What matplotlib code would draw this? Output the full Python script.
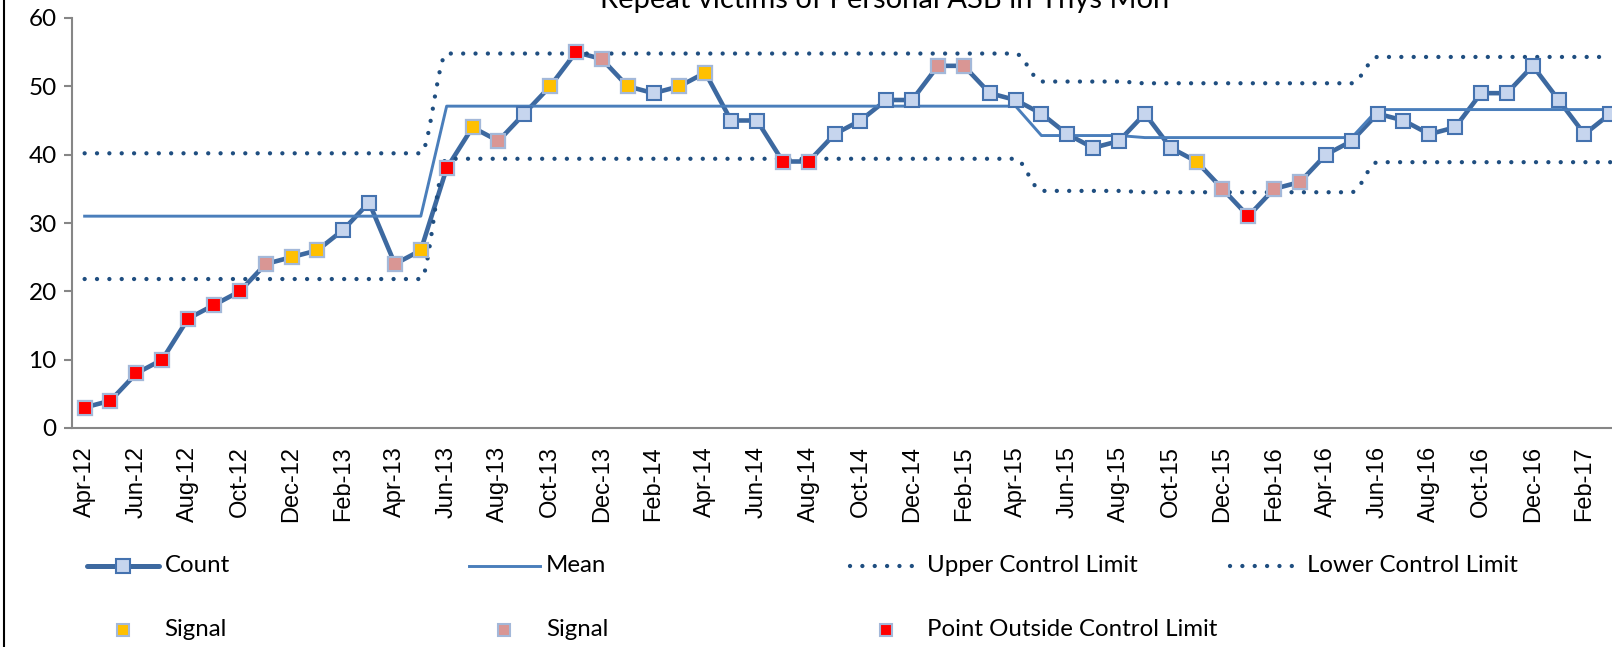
import matplotlib
matplotlib.use('Agg')
import matplotlib.pyplot as plt
import pandas as pd
from matplotlib.lines import Line2D
from matplotlib.path import Path
from matplotlib.patches import PathPatch

TITLE = 'Repeat victims of Personal ASB in Ynys Mon'

months = list(pd.period_range('2012-04', periods=60, freq='M').strftime('%b-%y'))

count = [3, 4, 8, 10, 16, 18, 20, 24, 25, 26, 29, 33,
         24, 26, 38, 44, 42, 46, 50, 55, 54, 50, 49, 50,
         52, 45, 45, 39, 39, 43, 45, 48, 48, 53, 53, 49,
         48, 46, 43, 41, 42, 46, 41, 39, 35, 31, 35, 36,
         40, 42, 46, 45, 43, 44, 49, 49, 53, 48, 43, 46]

# process limits, piecewise per period
mean = [31.0] * 14 + [47.1] * 23 + [42.8] * 4 + [42.5] * 9 + [46.6] * 10
ucl = [40.2] * 14 + [54.8] * 23 + [50.7] * 4 + [50.45] * 9 + [54.3] * 10
lcl = [21.8] * 14 + [39.4] * 23 + [34.7] * 4 + [34.5] * 9 + [38.9] * 10

# month indexes flagged by the rules
signal_yellow = [8, 9, 13, 15, 18, 21, 23, 24, 43]
signal_pink = [7, 12, 16, 20, 33, 34, 44, 46, 47]
outside = [0, 1, 2, 3, 4, 5, 6, 14, 19, 27, 28, 45]

LINE_C = '#3D69A0'
MEAN_C = '#4A7EBB'
DOT_C = '#1F4E80'
MK_FACE = '#C6D5EE'
MK_EDGE = '#4472AF'
SIG_EDGE = '#A3B8D9'
GREY = '#868686'

W, H = 1612, 647
fig = plt.figure(figsize=(W / 100, H / 100), dpi=100)
ax = fig.add_axes([71.7 / W, (H - 428) / H, (W - 71.7) / W, 410 / H])

x = list(range(len(count)))


def smooth_path(xs, ys):
    verts = [(xs[0], ys[0])]
    codes = [Path.MOVETO]
    for i in range(len(xs) - 1):
        d = (xs[i + 1] - xs[i]) / 3
        verts += [(xs[i] + d, ys[i]), (xs[i + 1] - d, ys[i + 1]), (xs[i + 1], ys[i + 1])]
        codes += [Path.CURVE4] * 3
    return Path(verts, codes)


dots = (0, (0.01, 2.86))

ax.plot(x, count, color=LINE_C, lw=3.3, zorder=2, solid_joinstyle='round')
ax.plot(x, mean, color=MEAN_C, lw=2.1, zorder=3)
for lim in (ucl, lcl):
    ax.add_patch(PathPatch(smooth_path(x, lim), fill=False, edgecolor=DOT_C, lw=3.1,
                           linestyle=dots, capstyle='round', zorder=3))
ax.plot(x, count, ls='none', marker='s', ms=10.5, mfc=MK_FACE, mec=MK_EDGE, mew=1.5, zorder=4)

for idx, col in ((signal_yellow, '#FFC000'), (signal_pink, '#D99694'), (outside, '#FF0000')):
    ax.plot(idx, [count[i] for i in idx], ls='none', marker='s', ms=10.5,
            mfc=col, mec=SIG_EDGE, mew=1.5, zorder=5)

ax.set_xlim(-0.5, (W - 84.6) / 25.86)
ax.set_ylim(0, 60)
ax.set_yticks(range(0, 61, 10))
ax.set_xticks(x[::2])
ax.set_xticklabels(months[::2], rotation=90, fontsize=17, family='Liberation Sans')
for s in ('top', 'right'):
    ax.spines[s].set_visible(False)
for s in ('left', 'bottom'):
    ax.spines[s].set_color(GREY)
    ax.spines[s].set_linewidth(1.5)
ax.tick_params(axis='y', length=5.8, width=1.5, color=GREY, pad=5)
ax.tick_params(axis='x', length=0, pad=13)
for t in ax.get_yticklabels():
    t.set_family('Lato')
    t.set_fontsize(17.5)

fig.text(885 / W, 1 - 8 / H, TITLE, ha='center', va='baseline', fontsize=21, family='Lato')

# left border of the chart area
fig.add_artist(Line2D([3.5 / W, 3.5 / W], [0, 1], transform=fig.transFigure, color='black', lw=1.5))

# legend, laid out in fixed-width columns like the original
def fx(px):
    return px / W


def fy(py):
    return 1 - py / H


tf = fig.transFigure
r1, r2 = 566, 630
fig.add_artist(Line2D([fx(87), fx(159)], [fy(r1)] * 2, transform=tf, color=LINE_C, lw=3.6,
                      solid_capstyle='round'))
fig.add_artist(Line2D([fx(123)], [fy(r1)], transform=tf, ls='none', marker='s', ms=10,
                      mfc=MK_FACE, mec=MK_EDGE, mew=1.5))
fig.add_artist(Line2D([fx(469), fx(540)], [fy(r1)] * 2, transform=tf, color=MEAN_C, lw=2.1))
for a, b in ((850, 916), (1230, 1297)):
    fig.add_artist(Line2D([fx(a), fx(b)], [fy(r1)] * 2, transform=tf, color=DOT_C, lw=3.1,
                          ls=dots, dash_capstyle='round'))
for px, col in ((123, '#FFC000'), (504, '#D99694'), (886, '#FF0000')):
    fig.add_artist(Line2D([fx(px)], [fy(r2)], transform=tf, ls='none', marker='s', ms=9,
                          mfc=col, mec=SIG_EDGE, mew=1.5))

labels = [(164.5, r1, 'Count'), (546, r1, 'Mean'), (927, r1, 'Upper Control Limit'),
          (1307, r1, 'Lower Control Limit'), (164.5, r2, 'Signal'), (546, r2, 'Signal'),
          (927, r2, 'Point Outside Control Limit')]
for px, py, s in labels:
    fig.text(fx(px), fy(py), s, ha='left', va='center', fontsize=17.3, family='Lato')

fig.savefig('out.png', dpi=100)
